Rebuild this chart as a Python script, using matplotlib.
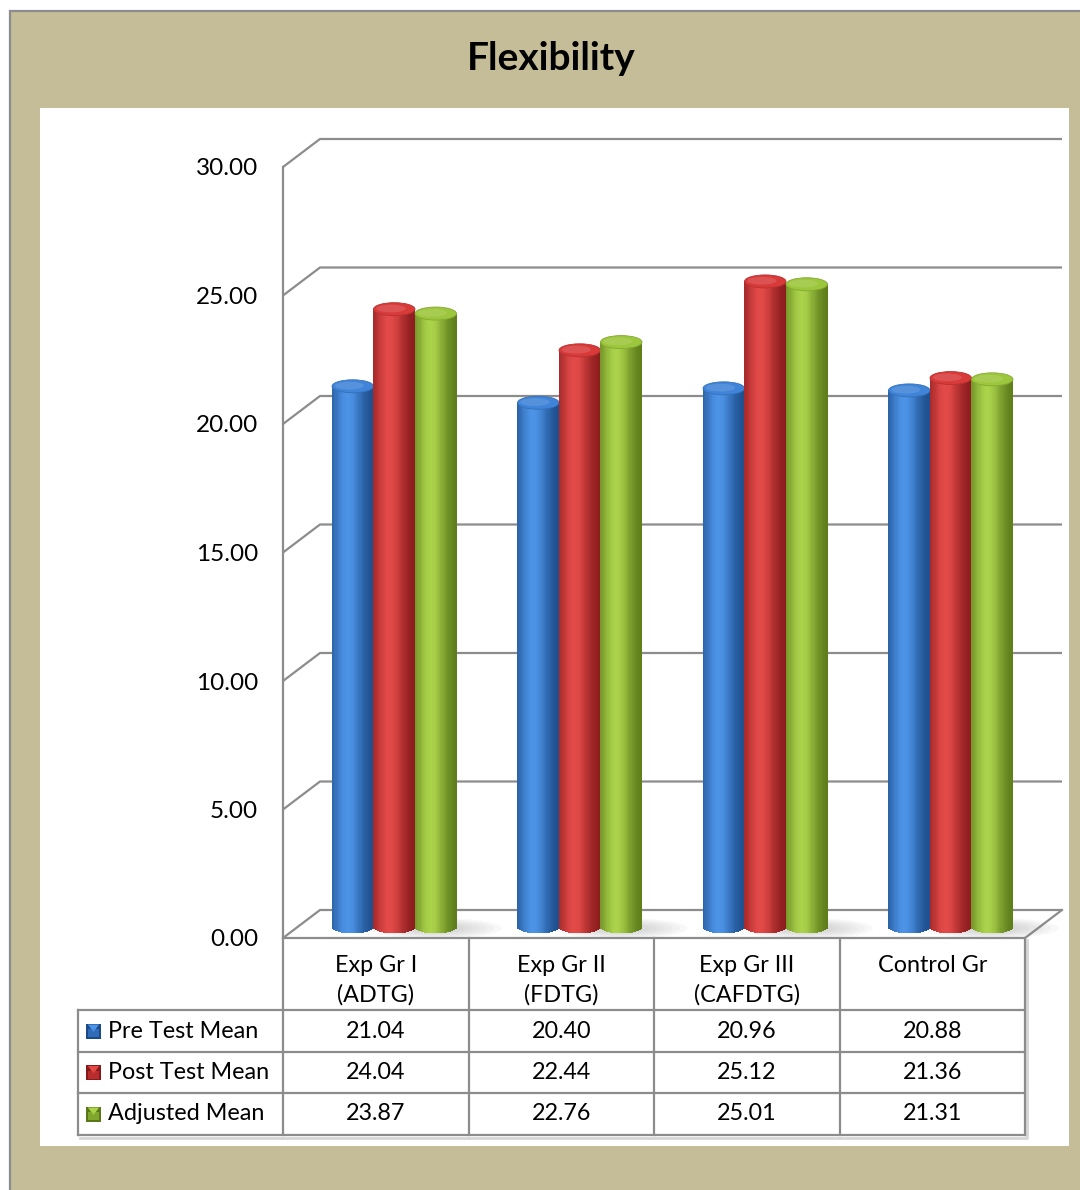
import numpy as np
import matplotlib
matplotlib.use("Agg")
import matplotlib.pyplot as plt
from matplotlib.patches import Rectangle, Ellipse, Polygon
from matplotlib.colors import to_rgb

# ---- data ----
groups = ["Exp Gr I", "Exp Gr II", "Exp Gr III", "Control Gr"]
group_codes = ["(ADTG)", "(FDTG)", "(CAFDTG)", ""]
series = ["Pre Test Mean", "Post Test Mean", "Adjusted Mean"]
pre_test = [21.04, 20.40, 20.96, 20.88]
post_test = [24.04, 22.44, 25.12, 21.36]
adjusted = [23.87, 22.76, 25.01, 21.31]
y_ticks = [0, 5, 10, 15, 20, 25, 30]
title = "Flexibility"

values = [pre_test, post_test, adjusted]
# (dark edge, highlight, cap) per series
palette = [
    ("#1B4A88", "#4C93E6", "#3F84D8"),
    ("#87191B", "#E24A48", "#D83A39"),
    ("#597818", "#ABD24A", "#9CC63B"),
]

FONT = "Lato"
GRID = "#8C8C8C"
W, H = 1080, 1190
fig = plt.figure(figsize=(W / 100, H / 100), dpi=100)


def frac(l, t, r, b):
    return [l / W, 1 - b / H, (r - l) / W, (b - t) / H]


# ---- frame, panel and title (pixel space) ----
bg = fig.add_axes([0, 0, 1, 1])
bg.set_xlim(0, W)
bg.set_ylim(H, 0)
bg.axis("off")
bg.add_patch(Rectangle((9.5, 10.5), W + 20, H + 20, fc="#C4BD97", ec=GRID, lw=1.6))
bg.add_patch(Rectangle((40, 108), 1029, 1038, fc="white", ec="none"))
bg.text(551, 58, title, ha="center", va="center", fontsize=28,
        fontweight="bold", family=FONT, color="black")

# ---- chart axes: front plane of the 3-D box ----
ax = fig.add_axes(frac(283, 167, 1025, 938))
ax.set_xlim(-0.5, len(groups) - 0.5)
ax.set_ylim(0, 30)
ax.patch.set_alpha(0)
for s in ["top", "right"]:
    ax.spines[s].set_visible(False)
for s in ["left", "bottom"]:
    ax.spines[s].set_color(GRID)
    ax.spines[s].set_linewidth(1.6)
ax.set_xticks([])
ax.set_yticks(y_ticks, [f"{v:.2f}" for v in y_ticks])
ax.tick_params(axis="y", length=0, pad=18, labelsize=17.5)
for lab in ax.get_yticklabels():
    lab.set_family(FONT)

# pixel size of one data unit, to express the depth offset in data units
p0, p1 = ax.transData.transform([(0, 0), (1, 1)])
ux, uy = p1 - p0
dxb, dyb = 37 / ux, 28 / uy          # back wall offset
dxm, dym = 18.5 / ux, 11 / uy        # plane through the bars
x_lo, x_hi = -0.5, len(groups) - 0.5

# back-wall gridlines with their perspective connectors
for v in y_ticks:
    ax.plot([x_lo, x_lo + dxb, x_hi + dxb], [v, v + dyb, v + dyb],
            color=GRID, lw=1.6, clip_on=False, zorder=1, solid_capstyle="butt")
# right edge of the floor
ax.plot([x_hi, x_hi + dxb], [0, dyb], color=GRID, lw=1.6, clip_on=False, zorder=1)

# ---- cylinders ----
bw = 0.2237
hh = 6.5 / uy                        # half-height of the elliptical caps
N = 36
t = (np.arange(N) + 0.5) / N
light = np.exp(-((t - 0.38) / 0.37) ** 2)
curve = np.sqrt(np.clip(1 - (2 * t - 1) ** 2, 0, 1))

for i in range(len(groups)):
    # soft floor shadow for the group
    for k, a in enumerate(np.linspace(1.0, 0.45, 6)):
        ax.add_patch(Ellipse((i + dxm + 0.22, dym - 0.2 * hh), 0.72 * a, 3.2 * hh * a,
                             fc="#7F7F7F", ec="none", alpha=0.05, clip_on=False, zorder=1.5))
    for j, vals in enumerate(values):
        v = vals[i]
        dark, hi, cap = (np.array(to_rgb(c)) for c in palette[j])
        cols = dark[None, :] + (hi - dark)[None, :] * light[:, None]
        xc = i + (j - 1) * bw + dxm
        xs = xc - bw / 2 + t * bw
        z = 3 + i * 0.1 + j * 0.02
        ax.bar(xs, v + hh * curve, width=bw / N * 1.08, bottom=dym - hh * curve,
               color=cols, lw=0, clip_on=False, zorder=z)
        ax.add_patch(Ellipse((xc, v + dym), bw, 2 * hh, fc=cap,
                             ec=tuple(np.clip(cap * 0.85, 0, 1)), lw=0.6,
                             clip_on=False, zorder=z + 0.005))
        ax.add_patch(Ellipse((xc - 0.08 * bw, v + dym + 0.1 * hh), 0.7 * bw, 1.2 * hh,
                             fc="white", ec="none", alpha=0.12,
                             clip_on=False, zorder=z + 0.006))

# ---- data table under the chart ----
tab = fig.add_axes(frac(78, 938, 1025, 1135))
lab_w = (283 - 78) / ux
t_lo = x_lo - lab_w
tab.set_xlim(t_lo, x_hi)
tab.set_ylim(197, 0)
tab.axis("off")
rows = [0, 72, 114, 155, 197]

# light drop shadow along the outer edge
tab.plot([t_lo + 2 / ux, x_hi + 2 / ux, x_hi + 2 / ux], [199.5, 199.5, 2],
         color="#D6D6D6", lw=2, clip_on=False)
for xb in np.arange(x_lo, x_hi + 0.01, 1.0):
    tab.plot([xb, xb], [0, rows[-1]], color=GRID, lw=1.6, clip_on=False,
             solid_capstyle="projecting")
tab.plot([t_lo, t_lo], [rows[1], rows[-1]], color=GRID, lw=1.6, clip_on=False,
         solid_capstyle="projecting")
for yb in rows[1:]:
    tab.plot([t_lo, x_hi], [yb, yb], color=GRID, lw=1.6, clip_on=False,
             solid_capstyle="projecting")

TS = 16.8
for i, (g, c) in enumerate(zip(groups, group_codes)):
    tab.text(i, 27, g, ha="center", va="center", fontsize=TS, family=FONT)
    if c:
        tab.text(i, 57, c, ha="center", va="center", fontsize=TS, family=FONT)

for j, (name, vals) in enumerate(zip(series, values)):
    yc = (rows[j + 1] + rows[j + 2]) / 2
    dark, hi, cap = palette[j]
    kx = t_lo + 8 / ux
    ks = 15 / ux
    tab.add_patch(Rectangle((kx, yc - 7.5), ks, 15, fc=dark, ec="none"))
    tab.add_patch(Polygon([(kx + 0.12 * ks, yc - 6.5), (kx + 0.88 * ks, yc - 6.5),
                           (kx + 0.5 * ks, yc + 1)], fc=hi, ec="none"))
    tab.add_patch(Rectangle((kx + 0.15 * ks, yc - 2), 0.7 * ks, 8, fc=cap, ec="none", alpha=0.6))
    tab.text(t_lo + 30 / ux, yc, name, ha="left", va="center", fontsize=TS, family=FONT)
    for i, v in enumerate(vals):
        tab.text(i, yc, f"{v:.2f}", ha="center", va="center", fontsize=TS, family=FONT)

fig.savefig("out.png", dpi=100)
